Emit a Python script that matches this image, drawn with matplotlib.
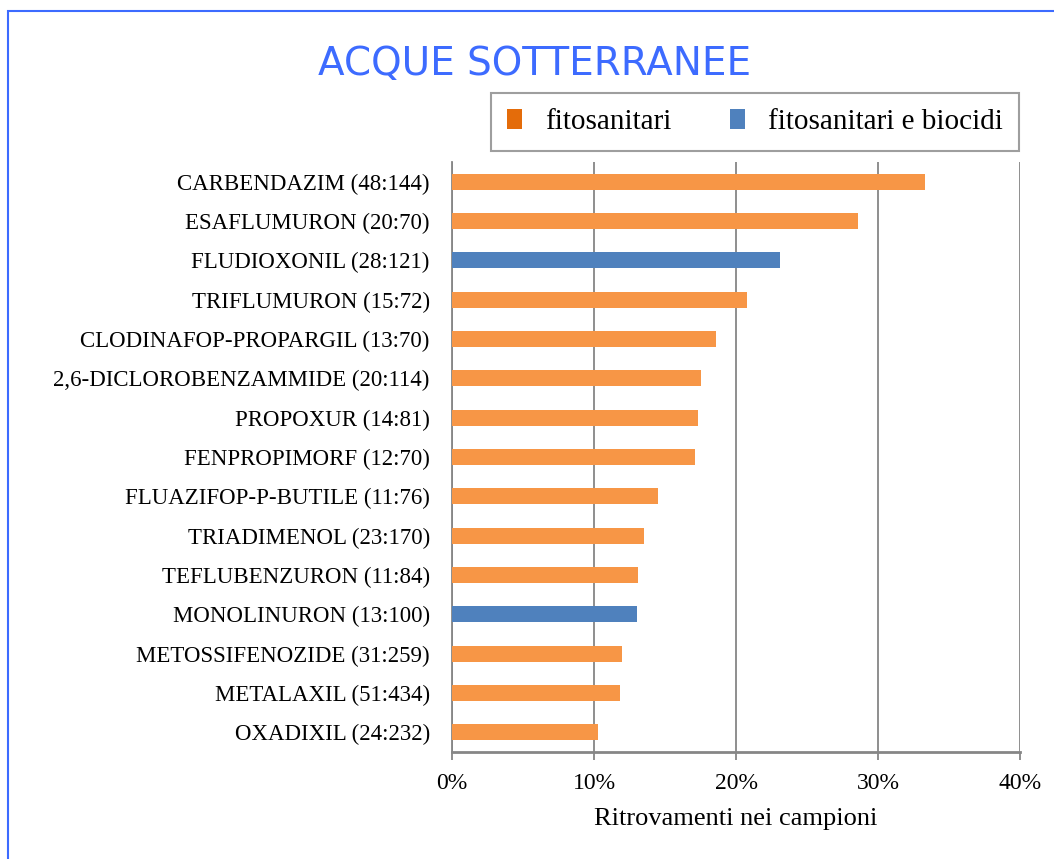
import numpy as np
import matplotlib.pyplot as plt
from matplotlib.patches import Patch, Rectangle
from matplotlib.ticker import PercentFormatter

labels = ['CARBENDAZIM (48:144)', 'ESAFLUMURON (20:70)', 'FLUDIOXONIL (28:121)',
          'TRIFLUMURON (15:72)', 'CLODINAFOP-PROPARGIL (13:70)',
          '2,6-DICLOROBENZAMMIDE (20:114)', 'PROPOXUR (14:81)', 'FENPROPIMORF (12:70)',
          'FLUAZIFOP-P-BUTILE (11:76)', 'TRIADIMENOL (23:170)', 'TEFLUBENZURON (11:84)',
          'MONOLINURON (13:100)', 'METOSSIFENOZIDE (31:259)', 'METALAXIL (51:434)',
          'OXADIXIL (24:232)']
values = [33.3, 28.6, 23.1, 20.8, 18.6, 17.5, 17.3, 17.1, 14.5, 13.5, 13.1, 13.0, 12.0, 11.8, 10.3]
biocide = [False, False, True, False, False, False, False, False, False, False, False,
           True, False, False, False]

orange = '#F79646'
blue = '#4F81BD'
grid_col = '#868686'

fig = plt.figure(figsize=(10.54, 8.59), dpi=100)
ax = fig.add_axes([452 / 1054, 1 - 752 / 859, 568 / 1054, 590 / 859])

y = np.arange(len(labels))
cols = [blue if b else orange for b in biocide]
ax.barh(y, values, height=0.41, color=cols, zorder=3)
ax.set_ylim(len(labels) - 0.5, -0.5)
ax.set_xlim(0, 40)
ax.set_xticks([0, 10, 20, 30, 40])
ax.xaxis.set_major_formatter(PercentFormatter(decimals=0))
ax.set_yticks(y)
ax.set_yticklabels(labels)

serif = 'Liberation Serif'
for t in ax.get_yticklabels():
    t.set_fontfamily(serif)
    t.set_fontsize(16.5)
for t in ax.get_xticklabels():
    t.set_fontfamily(serif)
    t.set_fontsize(17)

ax.grid(axis='x', color=grid_col, linewidth=1.3, zorder=0)
for s in ['top', 'right']:
    ax.spines[s].set_visible(False)
ax.spines['left'].set_color(grid_col)
ax.spines['left'].set_linewidth(1.3)
ax.spines['bottom'].set_color(grid_col)
ax.spines['bottom'].set_linewidth(2)
ax.tick_params(axis='y', length=0, pad=16)
ax.tick_params(axis='x', length=6, color=grid_col, width=1.3, pad=9)

ax.set_xlabel('Ritrovamenti nei campioni', fontfamily=serif, fontsize=19, labelpad=10)

fig.text(535 / 1054, 1 - 64 / 859, 'ACQUE SOTTERRANEE', ha='center', va='center',
         fontsize=28, color='#3D6BFF', fontfamily='DejaVu Sans')

handles = [Patch(facecolor='#E46C0A', label='fitosanitari'),
           Patch(facecolor=blue, label='fitosanitari e biocidi')]
leg = fig.legend(handles=handles, loc='center', ncol=2,
                 bbox_to_anchor=(755 / 1054, 1 - 122 / 859),
                 prop={'family': serif, 'size': 21}, frameon=True, fancybox=False,
                 edgecolor=grid_col, handlelength=0.5, handleheight=0.7,
                 columnspacing=2.0, borderpad=0.55, handletextpad=0.8)
leg.get_frame().set_linewidth(1.5)

fig.patches.append(Rectangle((8 / 1054, -0.1), 1.2, 1 - 11 / 859 + 0.1,
                             transform=fig.transFigure, fill=False,
                             edgecolor='#3D6BFF', linewidth=1.5))

fig.savefig('out.png', dpi=100)
